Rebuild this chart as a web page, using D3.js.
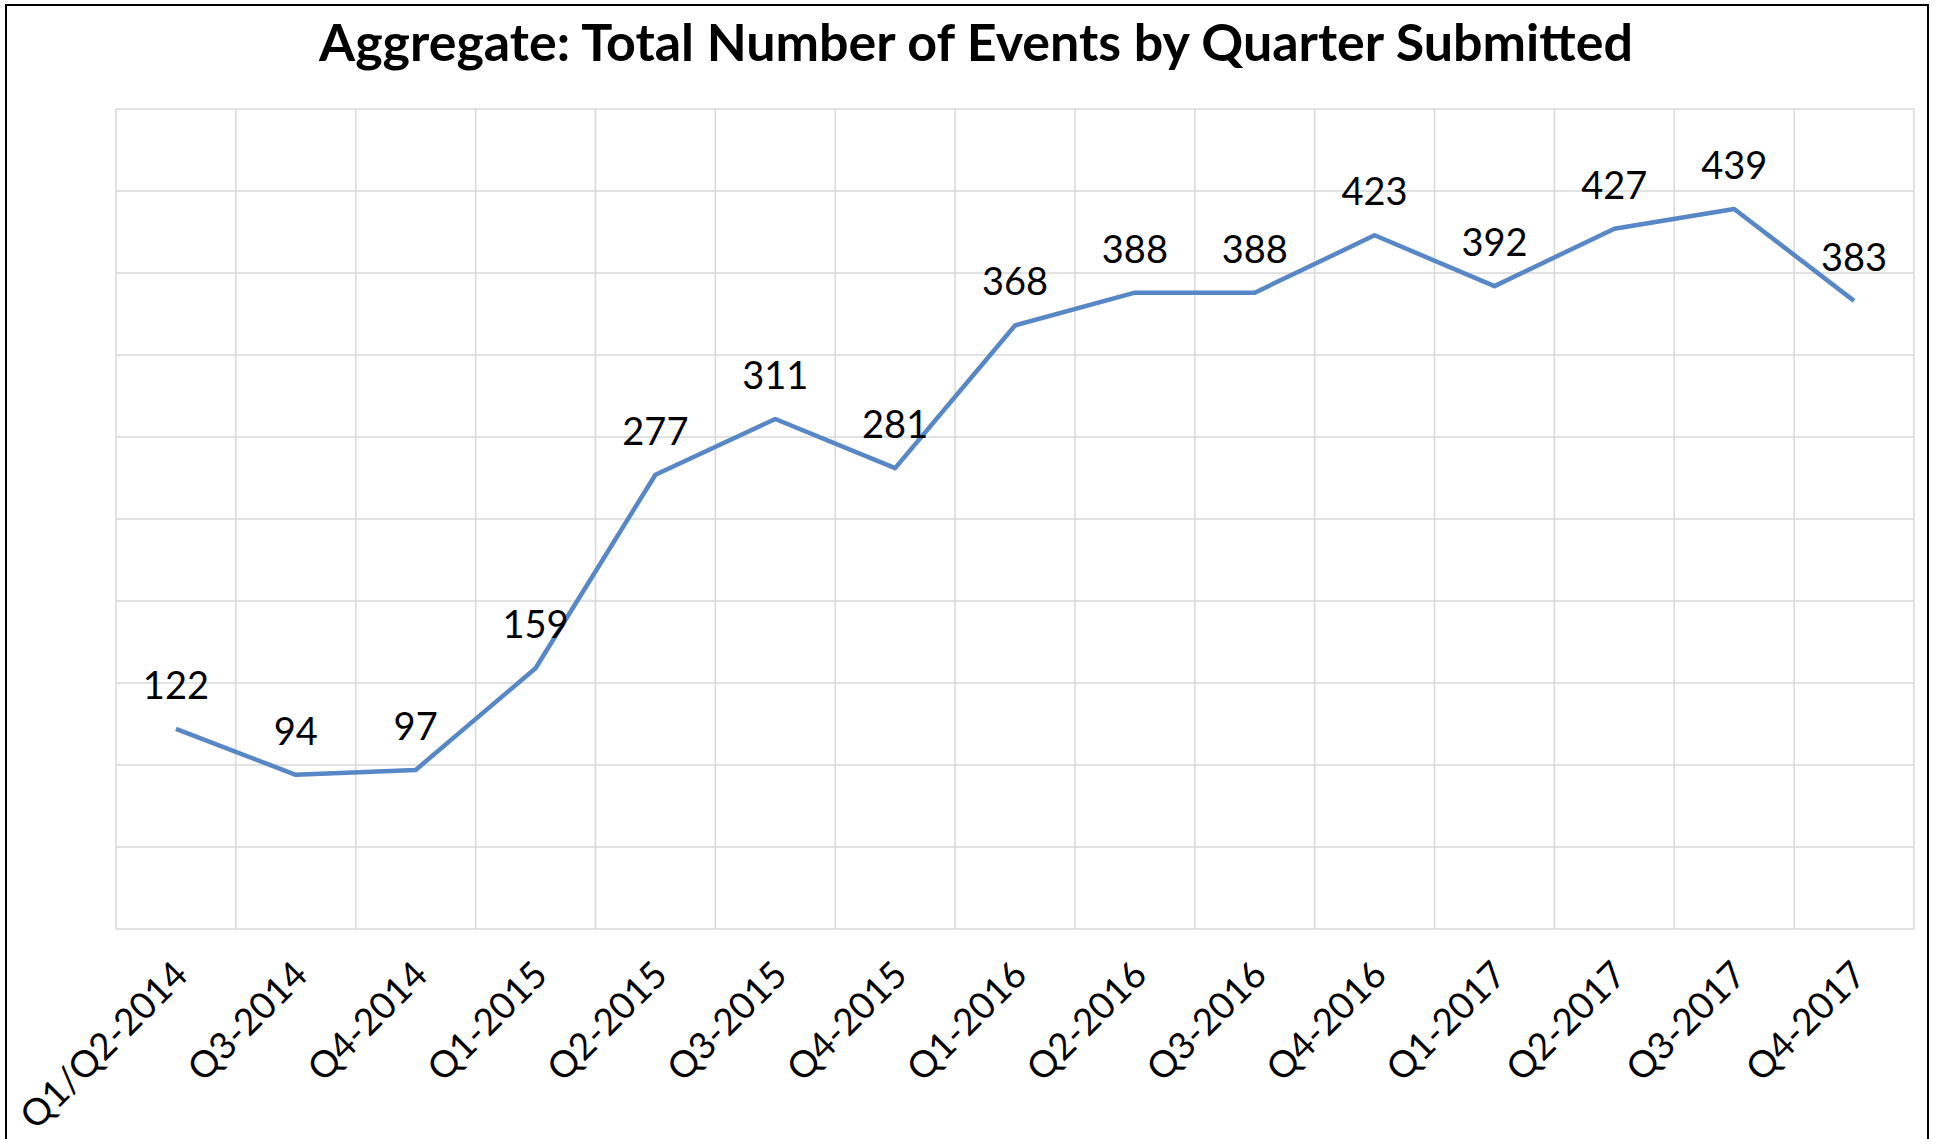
<!DOCTYPE html>
<html>
<head>
<meta charset="utf-8">
<script src="https://cdn.jsdelivr.net/npm/d3@7"></script>
<style>
  body { margin: 0; background: #fff; }
  text { font-family: Lato, "Open Sans", sans-serif; fill: #000; }
</style>
</head>
<body>
<svg id="chart" width="1937" height="1139"></svg>
<script>
const quarters = ['Q1/Q2-2014', 'Q3-2014', 'Q4-2014', 'Q1-2015', 'Q2-2015', 'Q3-2015', 'Q4-2015',
    'Q1-2016', 'Q2-2016', 'Q3-2016', 'Q4-2016', 'Q1-2017', 'Q2-2017', 'Q3-2017', 'Q4-2017'];
const events = [122, 94, 97, 159, 277, 311, 281, 368, 388, 388, 423, 392, 427, 439, 383];
const yTicks = [0, 50, 100, 150, 200, 250, 300, 350, 400, 450, 500];
const chartTitle = 'Aggregate: Total Number of Events by Quarter Submitted';

const svg = d3.select('#chart');
const plotLeft = 116, plotRight = 1914, plotTop = 109, plotBottom = 929;

// outer frame
svg.append('rect')
    .attr('x', 6).attr('y', 5)
    .attr('width', 1922).attr('height', 1150)
    .attr('fill', 'none')
    .attr('stroke', '#000')
    .attr('stroke-width', 2);

const x = d3.scaleBand().domain(quarters).range([plotLeft, plotRight]);
const y = d3.scaleLinear().domain([0, 500]).range([plotBottom, plotTop]);

// horizontal gridlines
svg.append('g').selectAll('line')
    .data(yTicks)
    .enter()
    .append('line')
    .attr('x1', plotLeft).attr('x2', plotRight)
    .attr('y1', d => y(d)).attr('y2', d => y(d))
    .attr('stroke', '#d9d9d9')
    .attr('stroke-width', 1.5);

// vertical gridlines at category edges
const edges = quarters.map(q => x(q)).concat([x(quarters[quarters.length - 1]) + x.bandwidth()]);
svg.append('g').selectAll('line')
    .data(edges)
    .enter()
    .append('line')
    .attr('x1', d => d).attr('x2', d => d)
    .attr('y1', plotTop).attr('y2', plotBottom)
    .attr('stroke', '#d9d9d9')
    .attr('stroke-width', 1.5);

// title, stretched to the width it takes in the original
const title = svg.append('text')
    .attr('x', 976).attr('y', 61)
    .attr('text-anchor', 'middle')
    .attr('font-size', 46)
    .attr('font-weight', 'bold')
    .text(chartTitle);
const tw = title.node().getComputedTextLength();
title.attr('font-size', 46 * 1314 / tw);

const cx = d => x(d) + x.bandwidth() / 2;

// the line
const line = d3.line()
    .x((d, i) => cx(quarters[i]))
    .y(d => y(d));

svg.append('path')
    .datum(events)
    .attr('d', line)
    .attr('fill', 'none')
    .attr('stroke', '#5787c6')
    .attr('stroke-width', 4.5)
    .attr('stroke-linejoin', 'round');

// data labels
svg.append('g').selectAll('text')
    .data(events)
    .enter()
    .append('text')
    .attr('x', (d, i) => cx(quarters[i]))
    .attr('y', d => y(d) - 30)
    .attr('text-anchor', 'middle')
    .attr('font-size', 38)
    .text(d => d);

// rotated category labels
svg.append('g').selectAll('text')
    .data(quarters)
    .enter()
    .append('text')
    .attr('transform', d => `translate(${cx(d) + 14},${plotBottom + 48}) rotate(-45)`)
    .attr('text-anchor', 'end')
    .attr('font-size', 37)
    .text(d => d);
</script>
</body>
</html>
